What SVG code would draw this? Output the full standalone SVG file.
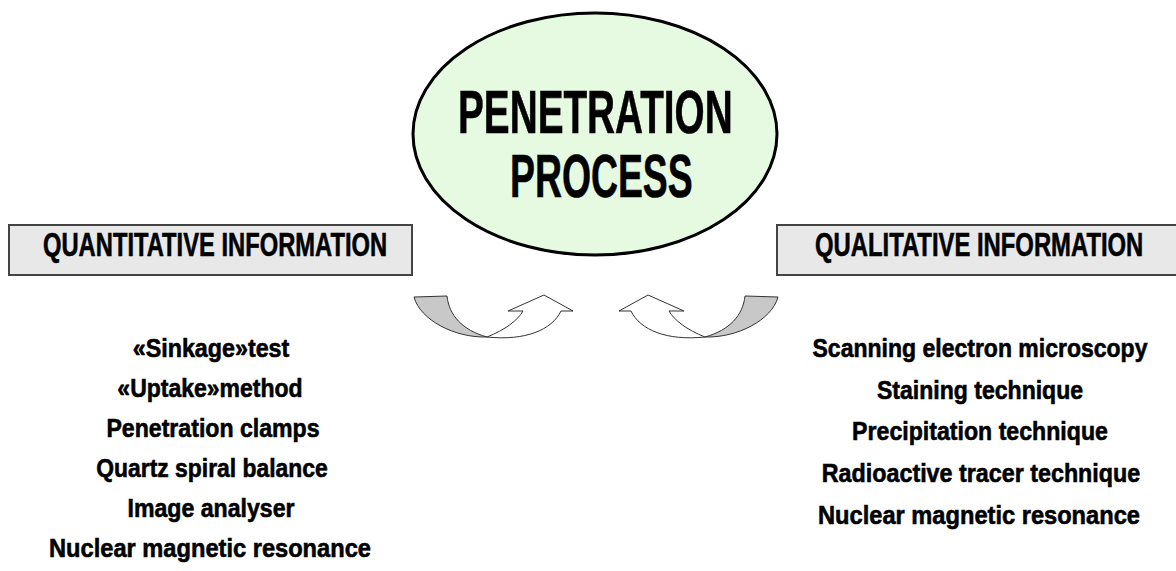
<svg xmlns="http://www.w3.org/2000/svg" width="1176" height="571" viewBox="0 0 1176 571">
<style>
.t{font-family:"Liberation Sans",Arial,sans-serif;font-weight:bold;fill:#000;stroke:#000;stroke-width:0.6}
.box{fill:#e8e8e8;stroke:#444;stroke-width:2}
.item{font-size:26px;text-anchor:middle}
.back{fill:#c8c8c8;stroke:#333;stroke-width:1}
.front{fill:#fff;stroke:#333;stroke-width:1}
</style>
<rect width="1176" height="571" fill="#fff"/>
<g id="process">
<ellipse cx="595" cy="134" rx="182" ry="121" fill="#e6f9e1" stroke="#000" stroke-width="3"/>
<text class="t" transform="translate(458,133) scale(0.63,1)" font-size="61" textLength="436" lengthAdjust="spacingAndGlyphs" stroke-width="1.4">PENETRATION</text>
<text class="t" transform="translate(510,197) scale(0.63,1)" font-size="61" textLength="290" lengthAdjust="spacingAndGlyphs" stroke-width="1.4">PROCESS</text>
</g>
<g id="quantitative">
<rect class="box" x="9" y="225" width="403" height="50"/>
<text class="t" transform="translate(43,256) scale(0.72,1)" font-size="33" textLength="478" lengthAdjust="spacingAndGlyphs">QUANTITATIVE INFORMATION</text>
</g>
<g id="qualitative">
<rect x="777" y="225" width="399" height="50" fill="#e8e8e8"/>
<path d="M1176,225 H777 V275 H1176" fill="none" stroke="#444" stroke-width="2"/>
<text class="t" transform="translate(815,256) scale(0.72,1)" font-size="33" textLength="456" lengthAdjust="spacingAndGlyphs">QUALITATIVE INFORMATION</text>
</g>
<g id="connectors">
<g id="arrow-left">
<path class="back" d="M414,297 L447,296 C449,315 462,330 487,337 C455,338 420,320 414,297 Z"/>
<path class="front" d="M487,337 C505,330 518,320 523,311 L508,311 L544,295 L573,311 L561,311 C552,330 525,341 487,337 Z"/>
</g>
<g id="arrow-right" transform="translate(1192,0) scale(-1,1)">
<path class="back" d="M414,297 L447,296 C449,315 462,330 487,337 C455,338 420,320 414,297 Z"/>
<path class="front" d="M487,337 C505,330 518,320 523,311 L508,311 L544,295 L573,311 L561,311 C552,330 525,341 487,337 Z"/>
</g>
</g>
<g id="quantitative-list" class="t item">
<text transform="translate(211,357) scale(0.87,1)" textLength="180" lengthAdjust="spacingAndGlyphs">«Sinkage»test</text>
<text transform="translate(210,397) scale(0.87,1)" textLength="213" lengthAdjust="spacingAndGlyphs">«Uptake»method</text>
<text transform="translate(213,437) scale(0.87,1)" textLength="245" lengthAdjust="spacingAndGlyphs">Penetration clamps</text>
<text transform="translate(212,477) scale(0.87,1)" textLength="266" lengthAdjust="spacingAndGlyphs">Quartz spiral balance</text>
<text transform="translate(211,517) scale(0.87,1)" textLength="192" lengthAdjust="spacingAndGlyphs">Image analyser</text>
<text transform="translate(210,557) scale(0.87,1)" textLength="370" lengthAdjust="spacingAndGlyphs">Nuclear magnetic resonance</text>
</g>
<g id="qualitative-list" class="t item">
<text transform="translate(980,357) scale(0.87,1)" textLength="385" lengthAdjust="spacingAndGlyphs">Scanning electron microscopy</text>
<text transform="translate(980,399) scale(0.87,1)" textLength="237" lengthAdjust="spacingAndGlyphs">Staining technique</text>
<text transform="translate(980,440) scale(0.87,1)" textLength="294" lengthAdjust="spacingAndGlyphs">Precipitation technique</text>
<text transform="translate(981,482) scale(0.87,1)" textLength="366" lengthAdjust="spacingAndGlyphs">Radioactive tracer technique</text>
<text transform="translate(979,524) scale(0.87,1)" textLength="370" lengthAdjust="spacingAndGlyphs">Nuclear magnetic resonance</text>
</g>
</svg>
